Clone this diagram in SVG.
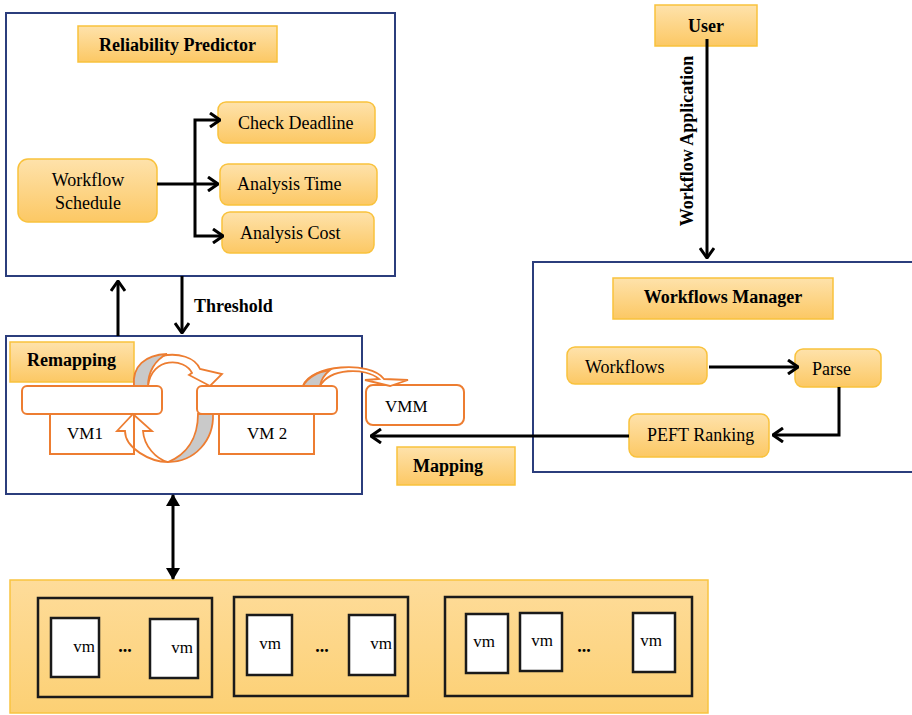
<svg xmlns="http://www.w3.org/2000/svg" width="912" height="715" viewBox="0 0 912 715">
  <defs>
    <linearGradient id="gold" x1="0" y1="0" x2="0" y2="1">
      <stop offset="0" stop-color="#fee2ab"/>
      <stop offset="1" stop-color="#fcc864"/>
    </linearGradient>
    <linearGradient id="poolFill" x1="0" y1="0" x2="0" y2="1">
      <stop offset="0" stop-color="#fedc9a"/>
      <stop offset="1" stop-color="#fcd074"/>
    </linearGradient>
    <marker id="chev" viewBox="0 0 12 16" refX="11" refY="8" markerWidth="12" markerHeight="16" markerUnits="userSpaceOnUse" orient="auto">
      <path d="M1,1 L11,8 L1,15" fill="none" stroke="#000" stroke-width="3"/>
    </marker>
    <marker id="tri" viewBox="0 0 12 14" refX="11" refY="7" markerWidth="12" markerHeight="14" markerUnits="userSpaceOnUse" orient="auto-start-reverse">
      <path d="M0,0 L12,7 L0,14 Z" fill="#000"/>
    </marker>
  </defs>
  <style>
    text { font-family: "Liberation Serif", "Times New Roman", serif; fill: #000; }
    .t { font-size: 18px; }
    .b { font-size: 18px; font-weight: bold; }
    .s { font-size: 17px; }
    .frame { fill: #fff; stroke: #2b3d7c; stroke-width: 2; }
    .label { fill: url(#gold); stroke: #f9c23c; stroke-width: 1.5; }
    .node { fill: url(#gold); stroke: #f9c23c; stroke-width: 1.5; }
    .vmo { fill: #fff; stroke: #ed7d31; stroke-width: 2; }
    .vmline { fill: none; stroke: #ed7d31; stroke-width: 2; }
    .band { fill: #c9c9c9; stroke: #ed7d31; stroke-width: 1.8; }
    .body { fill: #fff; stroke: #ed7d31; stroke-width: 1.8; stroke-linejoin: miter; }
    .wire { fill: none; stroke: #000; stroke-width: 3; }
    .host { fill: none; stroke: #1a1a1a; stroke-width: 2.5; }
    .vm { fill: #fff; stroke: #1a1a1a; stroke-width: 2.5; }
  </style>

  <!-- Reliability predictor container -->
  <g id="reliability-predictor">
    <rect class="frame" x="6" y="13" width="389" height="263"/>
    <rect class="label" x="78" y="26" width="199" height="36"/>
    <text class="b" x="177.5" y="51" text-anchor="middle">Reliability Predictor</text>
  </g>
  <g id="workflow-schedule">
    <rect class="node" x="18" y="159" width="139" height="63" rx="10"/>
    <text class="t" x="88" y="186" text-anchor="middle">Workflow</text>
    <text class="t" x="88" y="209" text-anchor="middle">Schedule</text>
  </g>
  <g id="check-deadline">
    <rect class="node" x="218" y="102" width="157" height="41" rx="8"/>
    <text class="t" x="238" y="129">Check Deadline</text>
  </g>
  <g id="analysis-time">
    <rect class="node" x="220" y="164" width="157" height="41" rx="8"/>
    <text class="t" x="237" y="190">Analysis Time</text>
  </g>
  <g id="analysis-cost">
    <rect class="node" x="222" y="212" width="152" height="41" rx="8"/>
    <text class="t" x="240" y="239">Analysis Cost</text>
  </g>

  <!-- User and workflows manager -->
  <g id="user">
    <rect class="label" x="655" y="5" width="102" height="41"/>
    <text class="b" x="706" y="32" text-anchor="middle">User</text>
  </g>
  <g id="workflows-manager">
    <rect class="frame" x="533" y="262" width="390" height="210"/>
    <rect class="label" x="613" y="278" width="220" height="41"/>
    <text class="b" x="723" y="303" text-anchor="middle">Workflows Manager</text>
  </g>
  <g id="workflows">
    <rect class="node" x="567" y="347" width="140" height="37" rx="8"/>
    <text class="t" x="585" y="373">Workflows</text>
  </g>
  <g id="parse">
    <rect class="node" x="795" y="349" width="86" height="38" rx="8"/>
    <text class="t" x="812" y="375">Parse</text>
  </g>
  <g id="peft-ranking">
    <rect class="node" x="629" y="414" width="140" height="43" rx="8"/>
    <text class="t" x="647" y="441">PEFT Ranking</text>
  </g>

  <!-- Remapping container with virtual machines -->
  <g id="remapping">
    <rect class="frame" x="6" y="336" width="356" height="158"/>
    <rect class="label" x="10" y="342" width="124" height="40"/>
    <text class="b" x="27" y="366">Remapping</text>
  </g>
  <g id="vm1">
    <rect class="vmo" x="50" y="414" width="84" height="40"/>
    <rect class="vmo" x="22" y="386" width="140" height="28" rx="5"/>
    <text class="s" x="67" y="439">VM1</text>
  </g>
  <g id="vm2">
    <rect class="vmo" x="219" y="414" width="95" height="40"/>
    <rect class="vmo" x="197" y="386" width="140" height="28" rx="5"/>
    <text class="s" x="247" y="439">VM 2</text>
  </g>
  <g id="vmm">
    <rect class="vmo" x="366" y="385" width="98" height="40" rx="7"/>
    <text class="s" x="385" y="412">VMM</text>
  </g>

  <!-- Curved migration arrows between the VMs -->
  <g id="migration-arrows">
    <path class="body" d="M134,386 C132,352 190,345 200,369 L222,374 L210,386 L189,375 L192,373 C185,358 152,356 148,386 Z"/>
    <path class="band" d="M134,386 C132,366 145,355 167,354 C155,360 148,372 148,386 Z"/>
    <path class="body" d="M168,462 C150,462 125,448 125,431 L117,431 L133,414 L152,431 L143,431 C144,446 156,459 168,462 Z"/>
    <path class="band" d="M213,414 C214,440 195,462 168,462 C185,455 198,440 198,414 Z"/>
    <path class="body" d="M303,386 C310,365 370,360 384,379 L408,380 L390,386 L365,380 L379,379 C365,367 330,368 320,386 Z"/>
    <path class="band" d="M303,386 C308,377 317,372 330,370 C325,374 321,380 320,386 Z"/>
    <!-- redraw the VM1 edge over the returning arrow -->
    <rect class="vmline" x="50" y="414" width="84" height="40"/>
  </g>

  <!-- Mapping label -->
  <g id="mapping">
    <rect class="label" x="397" y="447" width="118" height="38"/>
    <text class="b" x="413" y="472">Mapping</text>
  </g>

  <!-- Host pool -->
  <g id="host-pool">
    <rect x="10" y="580" width="698" height="133" fill="url(#poolFill)" stroke="#f9c440" stroke-width="1.5"/>
  </g>
  <g id="host-1">
    <rect class="host" x="38" y="598" width="174" height="99"/>
    <rect class="vm" x="51" y="618" width="48" height="59"/>
    <rect class="vm" x="150" y="619" width="48" height="59"/>
    <text class="s" x="84" y="652" text-anchor="middle">vm</text>
    <text class="s" x="182" y="653" text-anchor="middle">vm</text>
    <text class="b" x="125" y="652" text-anchor="middle">...</text>
  </g>
  <g id="host-2">
    <rect class="host" x="234" y="597" width="174" height="99"/>
    <rect class="vm" x="247" y="615" width="45" height="60"/>
    <rect class="vm" x="349" y="615" width="46" height="60"/>
    <text class="s" x="270" y="649" text-anchor="middle">vm</text>
    <text class="s" x="381" y="649" text-anchor="middle">vm</text>
    <text class="b" x="322" y="652" text-anchor="middle">...</text>
  </g>
  <g id="host-3">
    <rect class="host" x="445" y="597" width="247" height="99"/>
    <rect class="vm" x="466" y="614" width="42" height="59"/>
    <rect class="vm" x="520" y="613" width="42" height="58"/>
    <rect class="vm" x="633" y="613" width="42" height="59"/>
    <text class="s" x="484" y="647" text-anchor="middle">vm</text>
    <text class="s" x="542" y="646" text-anchor="middle">vm</text>
    <text class="s" x="651" y="646" text-anchor="middle">vm</text>
    <text class="b" x="584" y="652" text-anchor="middle">...</text>
  </g>

  <!-- Connectors -->
  <g id="connectors">
    <path class="wire" d="M157,184 L218,184" marker-end="url(#chev)"/>
    <path class="wire" d="M195,184 L195,120 L220,120" marker-end="url(#chev)"/>
    <path class="wire" d="M195,184 L195,236 L223,236" marker-end="url(#chev)"/>
    <path class="wire" d="M118,336 L118,281" marker-end="url(#chev)"/>
    <path class="wire" d="M182,276 L182,333" marker-end="url(#chev)"/>
    <path class="wire" d="M707,39 L707,258" marker-end="url(#chev)"/>
    <path class="wire" d="M709,367 L798,367" marker-end="url(#chev)"/>
    <path class="wire" d="M839,387 L839,435 L773,435" marker-end="url(#chev)"/>
    <path class="wire" d="M629,436 L371,436" marker-end="url(#chev)"/>
    <path class="wire" d="M173,495 L173,579" marker-start="url(#tri)" marker-end="url(#tri)"/>
    <text class="b" x="194" y="312">Threshold</text>
    <text class="b" transform="translate(693,141) rotate(-90)" text-anchor="middle">Workflow Application</text>
  </g>
</svg>
